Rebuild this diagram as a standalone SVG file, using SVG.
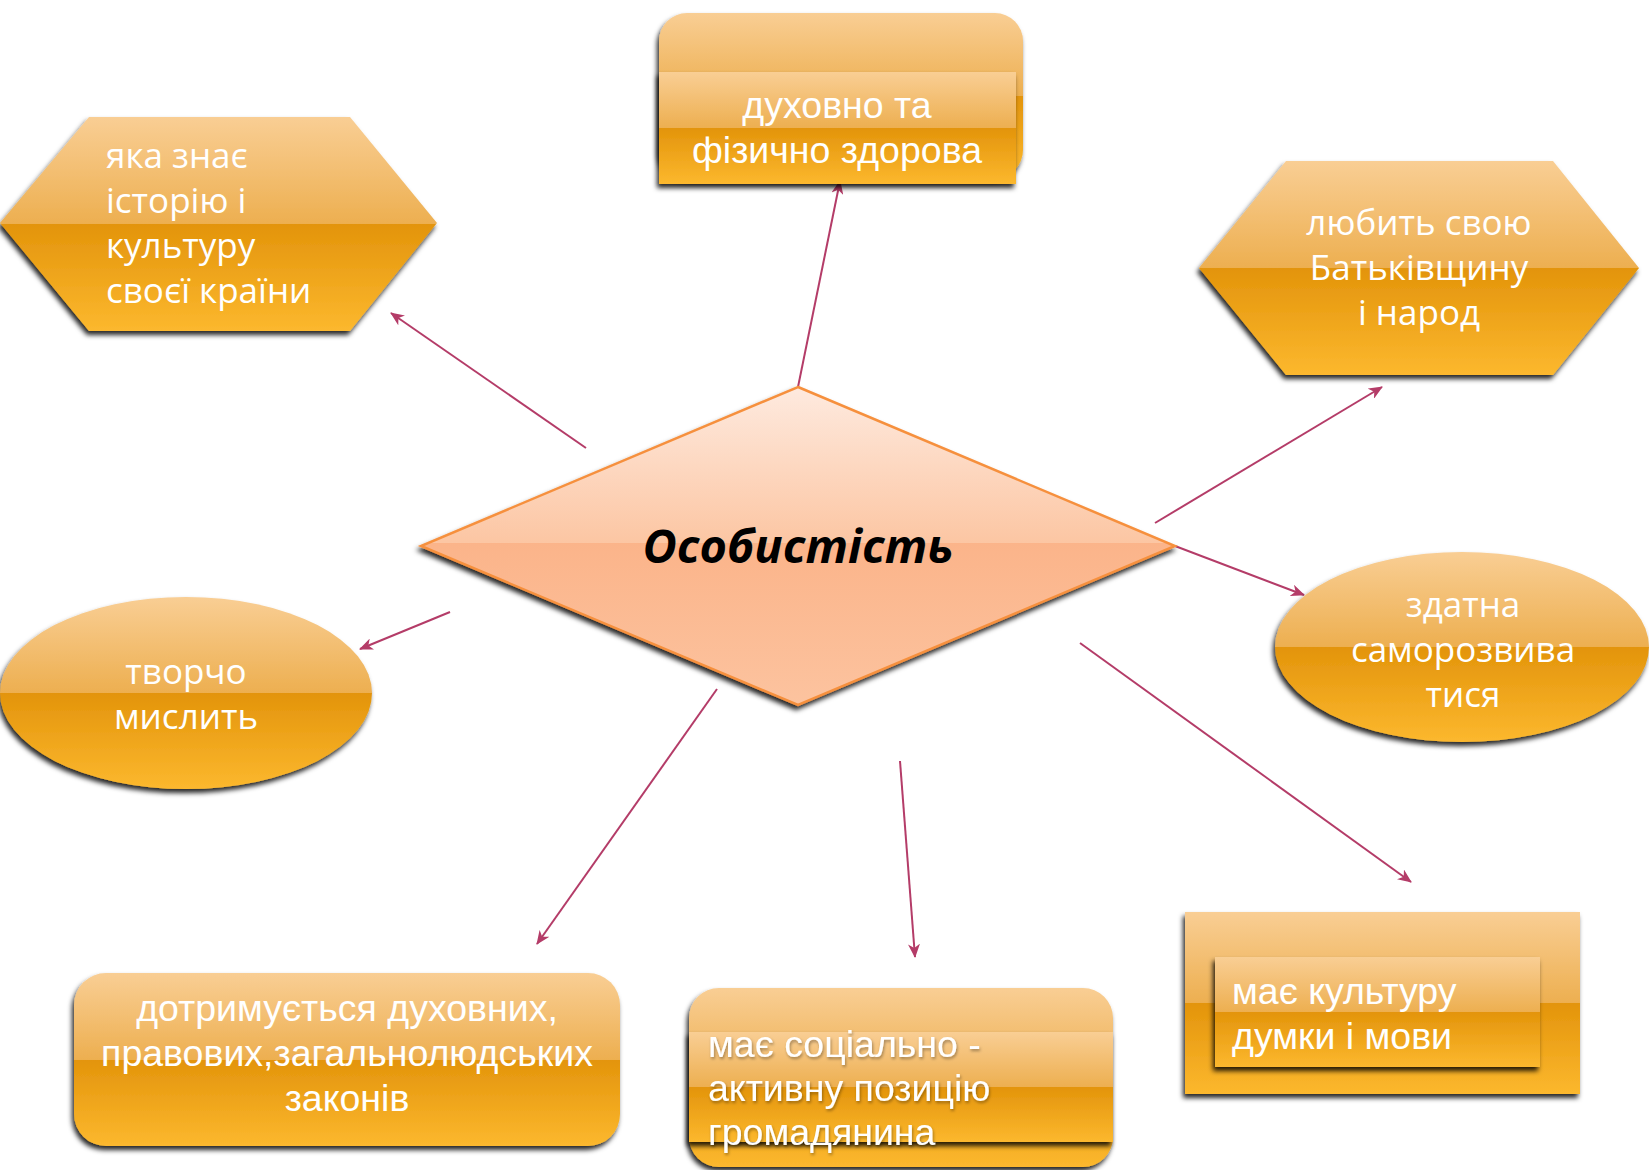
<svg xmlns="http://www.w3.org/2000/svg" width="1649" height="1170" viewBox="0 0 1649 1170">
<defs>
<linearGradient id="gold" x1="0" y1="0" x2="0" y2="1">
<stop offset="0" stop-color="#F9CE94"/>
<stop offset="0.5" stop-color="#EDAF50"/>
<stop offset="0.5" stop-color="#E3940B"/>
<stop offset="1" stop-color="#FCB82E"/>
</linearGradient>
<linearGradient id="peach" x1="0" y1="0" x2="0" y2="1">
<stop offset="0" stop-color="#FEEADF"/>
<stop offset="0.49" stop-color="#FCC6A3"/>
<stop offset="0.49" stop-color="#FBB48A"/>
<stop offset="1" stop-color="#FCC39F"/>
</linearGradient>
<filter id="sh" x="-10%" y="-10%" width="120%" height="130%">
<feDropShadow dx="-2" dy="4" stdDeviation="2.5" flood-color="#000" flood-opacity="0.85"/>
</filter>
<filter id="tsh" x="-5%" y="-20%" width="110%" height="150%">
<feDropShadow dx="1" dy="2" stdDeviation="1.5" flood-color="#000" flood-opacity="0.35"/>
</filter>
<marker id="arr" viewBox="0 0 14 12" refX="13" refY="6" markerWidth="14" markerHeight="12" markerUnits="userSpaceOnUse" orient="auto">
<path d="M0,0 L14,6 L0,12 L4,6 Z" fill="#B43C68"/>
</marker>
</defs>
<style>
.box{fill:url(#gold);filter:url(#sh)}
.tah{font-family:"Open Sans","Noto Sans","DejaVu Sans",sans-serif;font-size:35px;fill:#fff}
.ari{font-family:"Liberation Sans",Arial,sans-serif;font-size:37.5px;fill:#fff}
.mid{text-anchor:middle}
.con line{stroke:#B43C68;stroke-width:2;marker-end:url(#arr)}
</style>
<rect width="1649" height="1170" fill="#fff"/>

<g id="connectors" class="con">
<line x1="586" y1="448" x2="391" y2="313"/>
<line x1="798" y1="387" x2="840" y2="181"/>
<line x1="1155" y1="523" x2="1382" y2="387"/>
<line x1="1175" y1="546" x2="1304" y2="595"/>
<line x1="450" y1="612" x2="360" y2="649"/>
<line x1="717" y1="689" x2="537" y2="944"/>
<line x1="900" y1="761" x2="915" y2="957"/>
<line x1="1080" y1="643" x2="1411" y2="882"/>
</g>

<g id="center">
<polygon points="798,387 1175,546 798,705 421,546" fill="url(#peach)" stroke="#F6903E" stroke-width="2.5" filter="url(#sh)"/>
<text x="798" y="563" text-anchor="middle" font-family="'Open Sans','Noto Sans',sans-serif" font-size="47" font-weight="bold" font-style="italic" fill="#000">Особистість</text>
</g>

<g id="n-history">
<polygon class="box" points="89,117 350,117 437,223 350,331 89,331 0,223"/>
<text class="tah" x="106" y="168">яка знає</text>
<text class="tah" x="106" y="213">історію і</text>
<text class="tah" x="106" y="258">культуру</text>
<text class="tah" x="106" y="303">своєї країни</text>
</g>

<g id="n-health">
<rect class="box" x="659" y="13" width="364" height="165" rx="28"/>
<rect class="box" x="659" y="72" width="357" height="112"/>
<text class="ari mid" x="837" y="118">духовно та</text>
<text class="ari mid" x="837" y="163">фізично здорова</text>
</g>

<g id="n-homeland">
<polygon class="box" points="1286,161 1553,161 1639,268 1553,375 1286,375 1199,268"/>
<text class="tah mid" x="1419" y="235">любить свою</text>
<text class="tah mid" x="1419" y="280">Батьківщину</text>
<text class="tah mid" x="1419" y="325">і народ</text>
</g>

<g id="n-creative">
<ellipse class="box" cx="186" cy="693" rx="186" ry="96"/>
<text class="tah mid" x="186" y="684">творчо</text>
<text class="tah mid" x="186" y="729">мислить</text>
</g>

<g id="n-selfdev">
<ellipse class="box" cx="1462" cy="647" rx="187" ry="95"/>
<text class="tah mid" x="1463" y="617">здатна</text>
<text class="tah mid" x="1463" y="662">саморозвива</text>
<text class="tah mid" x="1463" y="707">тися</text>
</g>

<g id="n-laws">
<rect class="box" x="74" y="973" width="546" height="173" rx="32"/>
<text class="ari mid" x="347" y="1021">дотримується духовних,</text>
<text class="ari mid" x="347" y="1066">правових,загальнолюдських</text>
<text class="ari mid" x="347" y="1111">законів</text>
</g>

<g id="n-social">
<rect class="box" x="689" y="988" width="424" height="179" rx="30"/>
<rect class="box" x="689" y="1032" width="424" height="110"/>
<g filter="url(#tsh)">
<text class="ari" x="708" y="1057">має соціально -</text>
<text class="ari" x="708" y="1101">активну позицію</text>
<text class="ari" x="708" y="1145">громадянина</text>
</g>
</g>

<g id="n-culture">
<rect class="box" x="1185" y="912" width="395" height="182"/>
<rect class="box" x="1215" y="957" width="325" height="110"/>
<text class="ari" x="1232" y="1004">має культуру</text>
<text class="ari" x="1232" y="1049">думки і мови</text>
</g>
</svg>
